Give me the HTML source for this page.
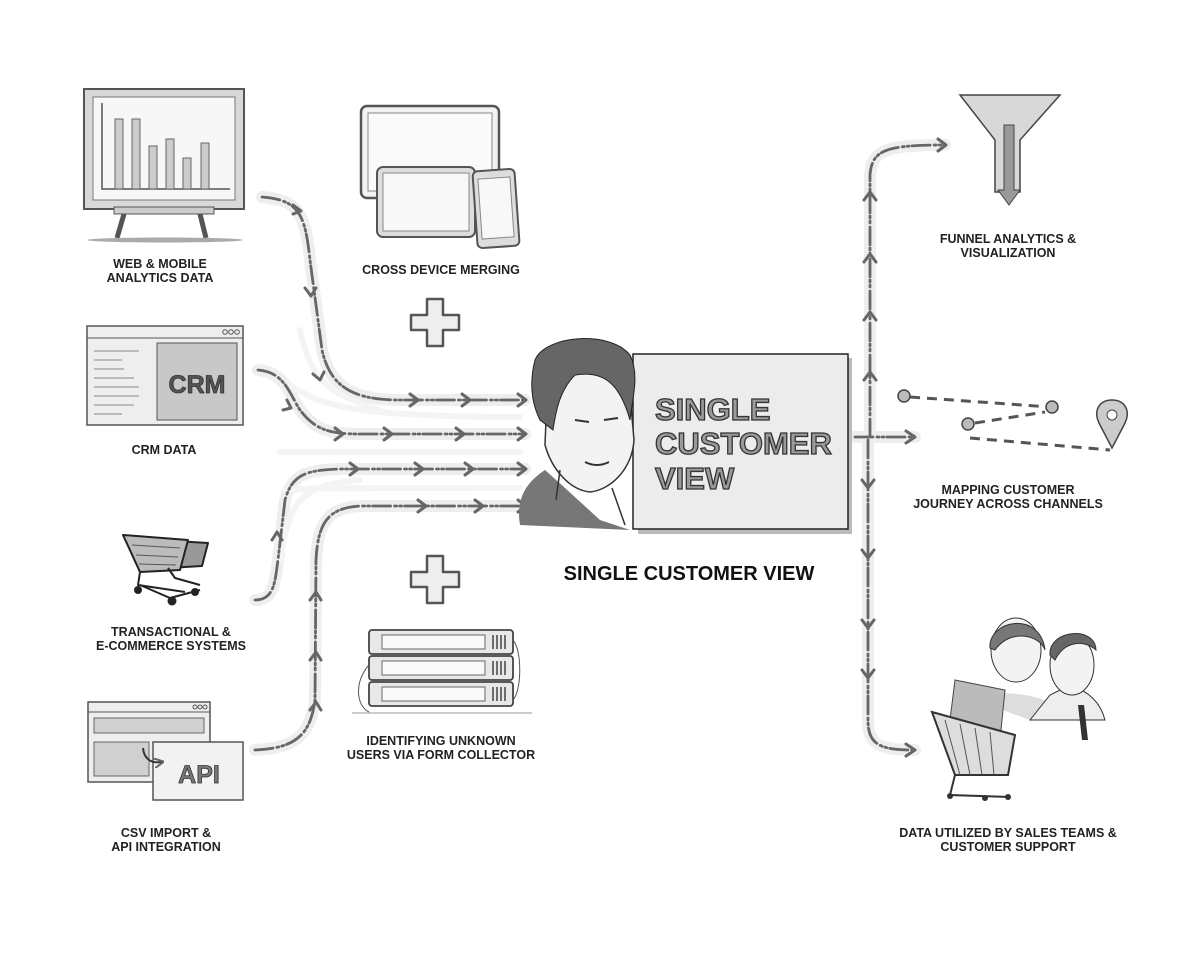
<!DOCTYPE html>
<html><head><meta charset="utf-8"><style>
html,body{margin:0;padding:0;background:#fff;}
svg{display:block;}
.l{font-family:"Liberation Sans",Arial,sans-serif;font-weight:bold;font-size:12.5px;fill:#222;text-anchor:middle;}
</style></head><body>
<svg width="1200" height="960" viewBox="0 0 1200 960" xmlns="http://www.w3.org/2000/svg">
<defs>
<marker id="ah" viewBox="0 0 10 10" refX="8" refY="5" markerWidth="5" markerHeight="5" orient="auto"><path d="M0,0 L10,5 L0,10" fill="none" stroke="#666" stroke-width="2"/></marker>
</defs>
<!-- glow bands -->
<g fill="none" stroke="#eeeeee" stroke-width="12" stroke-linecap="round">
<path d="M262,197 C300,200 305,215 310,260 L322,350 C330,385 350,400 400,400 L525,400"/>
<path d="M258,370 C285,372 290,395 300,410 C315,430 330,434 360,434 L525,434"/>
<path d="M255,600 C275,600 275,580 278,560 L285,500 C292,475 305,470 340,469 L525,469"/>
<path d="M255,750 C290,748 310,740 315,700 L316,560 C318,520 330,508 360,506 L525,506"/>
<path d="M855,437 L915,437"/>
<path d="M870,437 L870,175 C872,150 885,145 945,145"/>
<path d="M868,440 L868,720 C868,745 880,750 915,750"/>
</g>
<g fill="none" stroke="#f4f4f4" stroke-width="6" stroke-linecap="round">
<path d="M290,385 C320,405 350,417 520,417"/><path d="M280,452 L520,452"/><path d="M285,490 C310,488 330,488 520,488"/>
<path d="M300,330 C310,380 330,395 380,410"/><path d="M280,560 C290,500 300,485 360,480"/>
</g>
<!-- dashed arrows -->
<g fill="none" stroke="#666" stroke-width="2.8" stroke-dasharray="18 4 2 3 2 3" stroke-linecap="round">
<path d="M262,197 C300,200 305,215 310,260 L322,350 C330,385 350,400 400,400 L525,400"/>
<path d="M258,370 C285,372 290,395 300,410 C315,430 330,434 360,434 L525,434"/>
<path d="M255,600 C275,600 275,580 278,560 L285,500 C292,475 305,470 340,469 L525,469"/>
<path d="M255,750 C290,748 310,740 315,700 L316,560 C318,520 330,508 360,506 L525,506"/>
<path d="M855,437 L915,437"/>
<path d="M870,437 L870,175 C872,150 885,145 945,145"/>
<path d="M868,440 L868,720 C868,745 880,750 915,750"/>
</g>
<!-- arrowheads -->
<g fill="none" stroke="#666" stroke-width="3" stroke-linecap="round" stroke-linejoin="round">
<path d="M410,394 l8,6 l-8,6 M462,394 l8,6 l-8,6 M518,394 l8,6 l-8,6"/>
<path d="M335,428 l8,6 l-8,6 M384,428 l8,6 l-8,6 M456,428 l8,6 l-8,6 M518,428 l8,6 l-8,6"/>
<path d="M350,463 l8,6 l-8,6 M415,463 l8,6 l-8,6 M465,463 l8,6 l-8,6 M518,463 l8,6 l-8,6"/>
<path d="M418,500 l8,6 l-8,6 M475,500 l8,6 l-8,6 M518,500 l8,6 l-8,6"/>
<path d="M293,205 l8,6 l-8,3 M316,288 l-5,8 l-6,-8 M324,372 l-4,8 l-7,-6"/>
<path d="M287,400 l4,8 l-8,2"/>
<path d="M272,540 l5,-8 l5,8 M310,600 l6,-8 l5,8 M310,660 l6,-8 l5,8 M310,710 l6,-8 l5,8"/>
<path d="M864,200 l6,-8 l6,8 M864,262 l6,-8 l6,8 M864,320 l6,-8 l6,8 M864,380 l6,-8 l6,8 M938,139 l8,6 l-8,6"/>
<path d="M906,431 l9,6 l-9,6"/>
<path d="M862,480 l6,8 l6,-8 M862,550 l6,8 l6,-8 M862,620 l6,8 l6,-8 M862,670 l6,8 l6,-8 M906,744 l9,6 l-9,6"/>
</g>
<!-- web analytics board -->
<rect x="84" y="89" width="160" height="120" fill="#d8d8d8" stroke="#555" stroke-width="2"/>
<rect x="93" y="97" width="142" height="103" fill="#f7f7f7" stroke="#777"/>
<path d="M102,103 L102,189 L230,189" fill="none" stroke="#555" stroke-width="1.5"/>
<g fill="#ccc" stroke="#666"><rect x="115" y="119" width="8" height="70"/><rect x="132" y="119" width="8" height="70"/><rect x="149" y="146" width="8" height="43"/><rect x="166" y="139" width="8" height="50"/><rect x="183" y="158" width="8" height="31"/><rect x="201" y="143" width="8" height="46"/></g>
<rect x="114" y="207" width="100" height="7" fill="#ccc" stroke="#555"/>
<path d="M124,214 L117,238 M200,214 L206,238" stroke="#555" stroke-width="5"/>
<ellipse cx="165" cy="240" rx="78" ry="2.5" fill="#aaa"/>
<text class="l" x="160" y="268">WEB &amp; MOBILE</text><text class="l" x="160" y="282">ANALYTICS DATA</text>
<!-- cross device -->
<rect x="361" y="106" width="138" height="92" rx="6" fill="#f2f2f2" stroke="#555" stroke-width="2.5"/>
<rect x="368" y="113" width="124" height="78" fill="#fafafa" stroke="#888"/>
<rect x="377" y="167" width="98" height="70" rx="6" fill="#ddd" stroke="#555" stroke-width="2"/>
<rect x="383" y="173" width="86" height="58" fill="#f8f8f8" stroke="#888"/>
<rect x="475" y="170" width="42" height="77" rx="5" transform="rotate(-4 496 208)" fill="#ddd" stroke="#555" stroke-width="2"/>
<rect x="480" y="178" width="32" height="60" transform="rotate(-4 496 208)" fill="#f8f8f8" stroke="#888"/>
<text class="l" x="441" y="274">CROSS DEVICE MERGING</text>
<!-- plus signs -->
<g fill="#eee" stroke="#555" stroke-width="2.5" stroke-linejoin="round">
<path d="M427,299 h16 v16 h16 v15 h-16 v16 h-16 v-16 h-16 v-15 h16 z"/>
<path d="M427,556 h16 v16 h16 v15 h-16 v16 h-16 v-16 h-16 v-15 h16 z"/>
</g>
<!-- CRM -->
<rect x="87" y="326" width="156" height="99" fill="#eee" stroke="#555" stroke-width="1.5"/>
<line x1="87" y1="338" x2="243" y2="338" stroke="#555"/>
<g fill="none" stroke="#555"><circle cx="225" cy="332" r="2.3"/><circle cx="231" cy="332" r="2.3"/><circle cx="237" cy="332" r="2.3"/></g>
<rect x="157" y="343" width="80" height="77" fill="#c8c8c8" stroke="#555"/>
<g stroke="#bbb" stroke-width="2"><path d="M94,351h45M94,360h28M94,369h30M94,378h40M94,387h45M94,396h45M94,405h40M94,414h28"/></g>
<text x="197" y="393" font-family="Liberation Sans,Arial,sans-serif" font-weight="bold" font-size="25" fill="#555" stroke="#333" stroke-width="0.8" text-anchor="middle">CRM</text>
<text class="l" x="164" y="454">CRM DATA</text>
<!-- carts -->
<g fill="none" stroke="#222" stroke-width="2" stroke-linejoin="round">
<path d="M158,540 L208,543 L202,566 L168,568 Z" fill="#999"/>
<path d="M123,535 L188,540 L180,570 L140,572 Z" fill="#bbb"/>
<path d="M132,545 L180,548 M136,555 L178,557 M139,564 L176,565" stroke="#555" stroke-width="1"/>
<path d="M140,572 L138,585 L185,592 M168,568 L175,578 L200,585"/>
<path d="M140,585 L170,598 L200,590"/>
<circle cx="138" cy="590" r="3" fill="#222"/><circle cx="172" cy="601" r="3.5" fill="#222"/><circle cx="195" cy="592" r="3" fill="#222"/>
</g>
<text class="l" x="171" y="636">TRANSACTIONAL &amp;</text><text class="l" x="171" y="650">E-COMMERCE SYSTEMS</text>
<!-- API -->
<rect x="88" y="702" width="122" height="80" fill="#eee" stroke="#555" stroke-width="1.5"/>
<line x1="88" y1="712" x2="210" y2="712" stroke="#555"/>
<g fill="none" stroke="#555"><circle cx="195" cy="707" r="2"/><circle cx="200" cy="707" r="2"/><circle cx="205" cy="707" r="2"/></g>
<rect x="94" y="718" width="110" height="15" fill="#d0d0d0" stroke="#666"/>
<rect x="94" y="742" width="55" height="34" fill="#d0d0d0" stroke="#666"/>
<rect x="153" y="742" width="90" height="58" fill="#f2f2f2" stroke="#555" stroke-width="1.5"/>
<path d="M143,748 C144,758 150,764 162,762" fill="none" stroke="#333" stroke-width="2" marker-end="url(#ah)"/>
<text x="199" y="783" font-family="Liberation Sans,Arial,sans-serif" font-weight="bold" font-size="25" fill="#777" stroke="#333" stroke-width="0.8" text-anchor="middle">API</text>
<text class="l" x="166" y="837">CSV IMPORT &amp;</text><text class="l" x="166" y="851">API INTEGRATION</text>
<!-- server stack -->
<g fill="#e8e8e8" stroke="#444" stroke-width="1.8">
<rect x="369" y="630" width="144" height="24" rx="3"/><rect x="369" y="656" width="144" height="24" rx="3"/><rect x="369" y="682" width="144" height="24" rx="3"/>
</g>
<g fill="#fafafa" stroke="#666"><rect x="382" y="635" width="103" height="14"/><rect x="382" y="661" width="103" height="14"/><rect x="382" y="687" width="103" height="14"/></g>
<g stroke="#444" stroke-width="1.5"><path d="M493,635v14M497,635v14M501,635v14M505,635v14M493,661v14M497,661v14M501,661v14M505,661v14M493,687v14M497,687v14M501,687v14M505,687v14"/></g>
<path d="M513,640 C522,650 522,690 513,700 M369,665 C355,680 355,705 369,712" fill="none" stroke="#555"/>
<line x1="352" y1="713" x2="532" y2="713" stroke="#999"/>
<text class="l" x="441" y="745">IDENTIFYING UNKNOWN</text><text class="l" x="441" y="759">USERS VIA FORM COLLECTOR</text>
<!-- central box -->
<rect x="638" y="358" width="214" height="176" fill="#bbb"/>
<rect x="633" y="354" width="215" height="175" fill="#ececec" stroke="#222" stroke-width="1.5"/>
<g font-family="Liberation Sans,Arial,sans-serif" font-weight="bold" font-size="31" fill="#9a9a9a" stroke="#333" stroke-width="1.3">
<text x="655" y="420">SINGLE</text><text x="655" y="454">CUSTOMER</text><text x="655" y="489">VIEW</text></g>
<!-- person -->
<path d="M520,525 C515,495 530,480 545,470 L565,488 L600,520 L630,530 Z" fill="#777"/>
<path d="M548,372 C560,360 600,355 628,372 L634,440 C632,470 610,490 590,492 C570,490 552,470 545,445 Z" fill="#f3f3f3" stroke="#333" stroke-width="1.5"/>
<path d="M535,360 C545,335 610,330 630,355 C640,375 632,400 630,420 C620,385 605,370 575,375 C560,390 556,410 553,430 L540,420 C530,400 530,380 535,360 Z" fill="#666" stroke="#222"/>
<path d="M575,420 l14,2 M604,420 l14,-2 M585,462 q12,6 24,0" stroke="#333" stroke-width="2" fill="none"/>
<path d="M560,470 L556,500 M612,488 L625,525" stroke="#333" fill="none" stroke-width="1.5"/>
<text x="689" y="580" font-family="Liberation Sans,Arial,sans-serif" font-weight="bold" font-size="20" fill="#111" text-anchor="middle">SINGLE CUSTOMER VIEW</text>
<!-- funnel -->
<path d="M960,95 L1060,95 L1020,140 L1020,192 L995,192 L995,140 Z" fill="#d8d8d8" stroke="#444" stroke-width="1.5"/>
<path d="M1004,125 L1014,125 L1014,190 L1020,190 L1009,205 L998,190 L1004,190 Z" fill="#999" stroke="#444"/>
<text class="l" x="1008" y="243">FUNNEL ANALYTICS &amp;</text><text class="l" x="1008" y="257">VISUALIZATION</text>
<!-- journey -->
<g stroke="#555" stroke-width="3" stroke-dasharray="10 7" fill="none">
<path d="M910,397 L1050,407"/><path d="M975,423 L1045,412"/><path d="M970,438 L1110,450"/>
</g>
<g fill="#bbb" stroke="#444" stroke-width="1.5"><circle cx="904" cy="396" r="6"/><circle cx="1052" cy="407" r="6"/><circle cx="968" cy="424" r="6"/></g>
<path d="M1112,448 L1100,425 C1092,410 1100,400 1112,400 C1124,400 1132,410 1124,425 Z" fill="#ccc" stroke="#444" stroke-width="1.5"/>
<circle cx="1112" cy="415" r="5" fill="#fff" stroke="#444"/>
<text class="l" x="1008" y="494">MAPPING CUSTOMER</text><text class="l" x="1008" y="508">JOURNEY ACROSS CHANNELS</text>
<!-- people & cart -->
<path d="M975,700 C985,690 1040,690 1060,710 L1030,720 Z" fill="#ddd"/>
<ellipse cx="1016" cy="650" rx="25" ry="32" fill="#f3f3f3" stroke="#333"/>
<path d="M990,648 C988,620 1040,610 1045,650 C1040,635 1010,628 995,650 Z" fill="#777" stroke="#333"/>
<path d="M1030,720 L1105,720 C1100,700 1085,690 1070,685 L1050,695 Z" fill="#eee" stroke="#333"/>
<ellipse cx="1072" cy="665" rx="22" ry="30" fill="#f3f3f3" stroke="#333"/>
<path d="M1050,655 C1048,630 1095,625 1096,650 C1085,640 1065,640 1055,660 Z" fill="#666" stroke="#333"/>
<path d="M1078,705 L1082,740 L1088,740 L1084,705 Z" fill="#333"/>
<path d="M955,680 L1005,690 L1000,740 L950,720 Z" fill="#bbb" stroke="#444"/>
<path d="M932,712 L1015,735 L1008,775 L955,775 Z" fill="#ddd" stroke="#333" stroke-width="2"/>
<g stroke="#555"><path d="M945,720 L960,775 M960,724 L970,775 M975,728 L982,775 M990,732 L994,775"/></g>
<path d="M955,775 L950,795 L1010,797" fill="none" stroke="#333" stroke-width="2"/>
<circle cx="950" cy="796" r="3" fill="#333"/><circle cx="985" cy="798" r="3" fill="#333"/><circle cx="1008" cy="797" r="3" fill="#333"/>
<text class="l" x="1008" y="837">DATA UTILIZED BY SALES TEAMS &amp;</text><text class="l" x="1008" y="851">CUSTOMER SUPPORT</text>
</svg>
</body></html>
